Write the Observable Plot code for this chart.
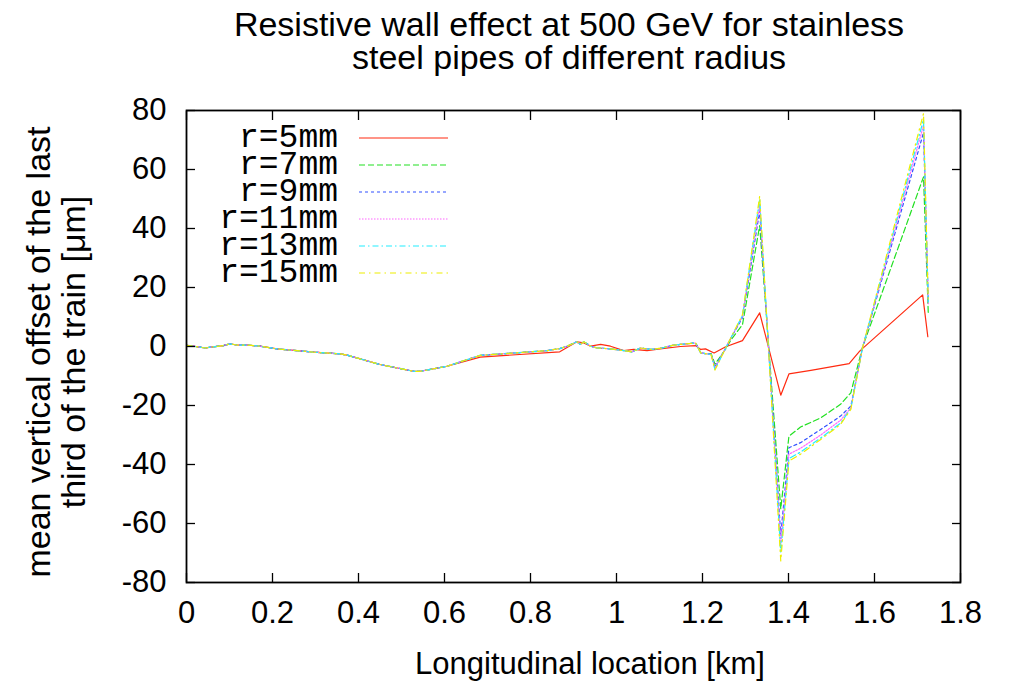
<!DOCTYPE html>
<html>
<head>
<meta charset="utf-8">
<script src="https://cdn.jsdelivr.net/npm/d3@7"></script>
<script src="https://cdn.jsdelivr.net/npm/@observablehq/plot@0.6"></script>
<style>
  html, body { margin: 0; padding: 0; background: #fff; }
  #chart svg { display: block; }
</style>
</head>
<body>
<div id="chart"></div>
<script>
// ---- data ----
const titleLines = ["Resistive wall effect at 500 GeV for stainless", "steel pipes of different radius"];
const xLabel = "Longitudinal location [km]";
const yLabelLines = ["mean vertical offset of the last", "third of the train [\u03bcm]"];
const xTicks = [0, 0.2, 0.4, 0.6, 0.8, 1, 1.2, 1.4, 1.6, 1.8];
const yTicks = [-80, -60, -40, -20, 0, 20, 40, 60, 80];
const seriesNames = ["r=5mm", "r=7mm", "r=9mm", "r=11mm", "r=13mm", "r=15mm"];
const seriesColors = ["#ff2a10", "#22e022", "#3050ff", "#ff66ff", "#22eeff", "#eeee00"];
const seriesDash = ["none", "6,3", "3,3", "1.5,1.5", "6,3,1.5,3", "6,4,1.5,4"];

// r=5mm
const xR5 = [0,0.016,0.043,0.062,0.086,0.101,0.117,0.14,0.171,0.21,0.257,0.295,0.357,0.373,0.45,0.528,0.544,0.606,0.683,0.868,0.908,0.924,0.94,0.963,0.986,1.017,1.04,1.071,1.106,1.149,1.184,1.196,1.207,1.227,1.254,1.293,1.333,1.382,1.401,1.452,1.541,1.566,1.712,1.724];
const yR5 = [0.4,0.1,-0.5,-0.1,0.3,0.9,0.5,0.5,0.1,-0.8,-1.4,-1.9,-2.5,-2.9,-6.1,-8.4,-8.4,-6.7,-3.6,-1.8,1.6,1.2,0.1,0.7,0.1,-1.4,-1.0,-1.4,-0.7,0.0,0.3,-1.0,-0.8,-2.2,-0.1,2.0,11.4,-16.5,-9.3,-8.1,-5.8,-1.5,17.5,3.3];

// r=7..15mm share one location grid
const xOther = [0,0.016,0.043,0.062,0.086,0.101,0.117,0.14,0.171,0.21,0.257,0.295,0.357,0.373,0.45,0.528,0.544,0.606,0.683,0.761,0.839,0.868,0.885,0.908,0.916,0.924,0.94,0.955,0.986,1.017,1.036,1.056,1.08,1.106,1.13,1.149,1.184,1.196,1.211,1.22,1.229,1.254,1.266,1.293,1.333,1.382,1.401,1.428,1.475,1.521,1.545,1.572,1.714,1.725];
const yR7 = [0.4,0.1,-0.5,-0.1,0.3,0.9,0.5,0.5,0.1,-0.8,-1.4,-1.9,-2.5,-2.9,-6.1,-8.4,-8.4,-6.7,-3.0,-2.2,-1.4,-0.7,0.1,1.6,0.7,1.6,0.1,-0.5,-0.8,-1.4,-1.8,-0.5,-1.0,-0.5,0.4,0.7,1.2,-2.2,-2.5,
  -2.4,-6.0,-0.8,2.2,7.4,41,-55,-30.4,-27.3,-24.2,-19.6,-15.7,-0.3,57.5,11.4];
const yR9 = [0.4,0.1,-0.5,-0.1,0.3,0.9,0.5,0.5,0.1,-0.8,-1.4,-1.9,-2.5,-2.9,-6.1,-8.4,-8.4,-6.7,-3.0,-2.2,-1.4,-0.7,0.1,1.6,0.7,1.6,0.1,-0.5,-0.8,-1.4,-1.8,-0.5,-1.0,-0.5,0.4,0.7,1.2,-2.2,-2.5,
  -2.6,-7.0,-0.5,2.8,9.8,46,-64,-34.3,-32.6,-28.1,-23.6,-20.2,-0.5,72.5,15.3];
const yR11 = [0.4,0.1,-0.5,-0.1,0.3,0.9,0.5,0.5,0.1,-0.8,-1.4,-1.9,-2.5,-2.9,-6.1,-8.4,-8.4,-6.7,-3.0,-2.2,-1.4,-0.7,0.1,1.6,0.7,1.6,0.1,-0.5,-0.8,-1.4,-1.8,-0.5,-1.0,-0.5,0.4,0.7,1.2,-2.2,-2.5,
  -2.7,-7.4,-0.5,2.9,10.2,48,-67,-36.5,-34.5,-30,-25,-20.8,-0.5,75,14.5];
const yR13 = [0.4,0.1,-0.5,-0.1,0.3,0.9,0.5,0.5,0.1,-0.8,-1.4,-1.9,-2.5,-2.9,-6.1,-8.4,-8.4,-6.7,-3.0,-2.2,-1.4,-0.7,0.1,1.6,0.7,1.6,0.1,-0.5,-0.8,-1.4,-1.8,-0.5,-1.0,-0.5,0.4,0.7,1.2,-2.2,-2.5,
  -2.7,-7.8,-0.5,2.9,10.5,50,-70,-38,-35.8,-31,-26,-21,-0.5,77,15];
const yR15 = [0.4,0.1,-0.5,-0.1,0.3,0.9,0.5,0.5,0.1,-0.8,-1.4,-1.9,-2.5,-2.9,-6.1,-8.4,-8.4,-6.7,-3.0,-2.2,-1.4,-0.7,0.1,1.6,0.7,1.6,0.1,-0.5,-0.8,-1.4,-1.8,-0.5,-1.0,-0.5,0.4,0.7,1.2,-2.2,-2.5,
  -2.8,-8.0,-0.5,3.0,10.8,51,-72.7,-38.8,-36.5,-31.5,-26.4,-21.3,-0.5,79,15];

// ---- build rows ----
const seriesData = [
  xR5.map((x, i) => ({x, y: yR5[i], s: seriesNames[0]})),
  xOther.map((x, i) => ({x, y: yR7[i], s: seriesNames[1]})),
  xOther.map((x, i) => ({x, y: yR9[i], s: seriesNames[2]})),
  xOther.map((x, i) => ({x, y: yR11[i], s: seriesNames[3]})),
  xOther.map((x, i) => ({x, y: yR13[i], s: seriesNames[4]})),
  xOther.map((x, i) => ({x, y: yR15[i], s: seriesNames[5]}))
];

const W = 1010, H = 686;
const FONT = "'Liberation Sans', Arial, Helvetica, sans-serif";
const MONO = "'Liberation Mono', 'Courier New', monospace";

const lineMarks = seriesData.map((rows, k) => Plot.line(rows, {
  x: "x", y: "y", stroke: seriesColors[k], strokeWidth: 1.2,
  strokeDasharray: seriesDash[k] === "none" ? null : seriesDash[k]
}));

const fmt = d => String(d);
const blank = () => "";

const chart = Plot.plot({
  width: W, height: H,
  marginLeft: 186, marginRight: 50, marginTop: 110, marginBottom: 104,
  style: {fontFamily: FONT, fontSize: "31px", color: "#000", background: "#fff"},
  x: {domain: [0, 1.8]},
  y: {domain: [-80, 80]},
  marks: [
    ...lineMarks,
    Plot.frame({stroke: "#000", strokeWidth: 1.8}),
    Plot.axisX({ticks: xTicks, anchor: "bottom", tickSize: -9, tickPadding: 27, tickFormat: fmt, label: null, fontSize: 31, strokeWidth: 1.3}),
    Plot.axisX({ticks: xTicks, anchor: "top", tickSize: -9, tickFormat: blank, label: null, strokeWidth: 1.3}),
    Plot.axisY({ticks: yTicks, anchor: "left", tickSize: -9, tickPadding: 29, tickFormat: fmt, label: null, fontSize: 31, strokeWidth: 1.3}),
    Plot.axisY({ticks: yTicks, anchor: "right", tickSize: -9, tickFormat: blank, label: null, strokeWidth: 1.3})
  ]
});

document.getElementById("chart").appendChild(chart);

// ---- title, axis labels, legend ----
const svg = d3.select(chart);
const g = svg.append("g").attr("font-family", FONT).attr("fill", "#000");

titleLines.forEach((t, i) => {
  g.append("text").attr("x", 569).attr("y", 24 + i * 33)
    .attr("text-anchor", "middle").attr("dominant-baseline", "central")
    .attr("font-size", 34).text(t);
});

g.append("text").attr("x", 590).attr("y", 663)
  .attr("text-anchor", "middle").attr("dominant-baseline", "central")
  .attr("font-size", 31).text(xLabel);

yLabelLines.forEach((t, i) => {
  g.append("text")
    .attr("transform", `translate(${38 + i * 35},352) rotate(-90)`)
    .attr("text-anchor", "middle").attr("dominant-baseline", "central")
    .attr("font-size", 34).text(t);
});

const leg = svg.append("g");
seriesNames.forEach((name, k) => {
  const yy = 138 + k * 27;
  leg.append("text").attr("x", 338).attr("y", yy)
    .attr("text-anchor", "end").attr("dominant-baseline", "central")
    .attr("font-family", MONO).attr("font-size", 33).attr("fill", "#000").text(name);
  leg.append("line").attr("x1", 359).attr("x2", 448).attr("y1", yy).attr("y2", yy)
    .attr("stroke", seriesColors[k]).attr("stroke-width", 1.2)
    .attr("stroke-dasharray", seriesDash[k] === "none" ? null : seriesDash[k]);
});
</script>
</body>
</html>
